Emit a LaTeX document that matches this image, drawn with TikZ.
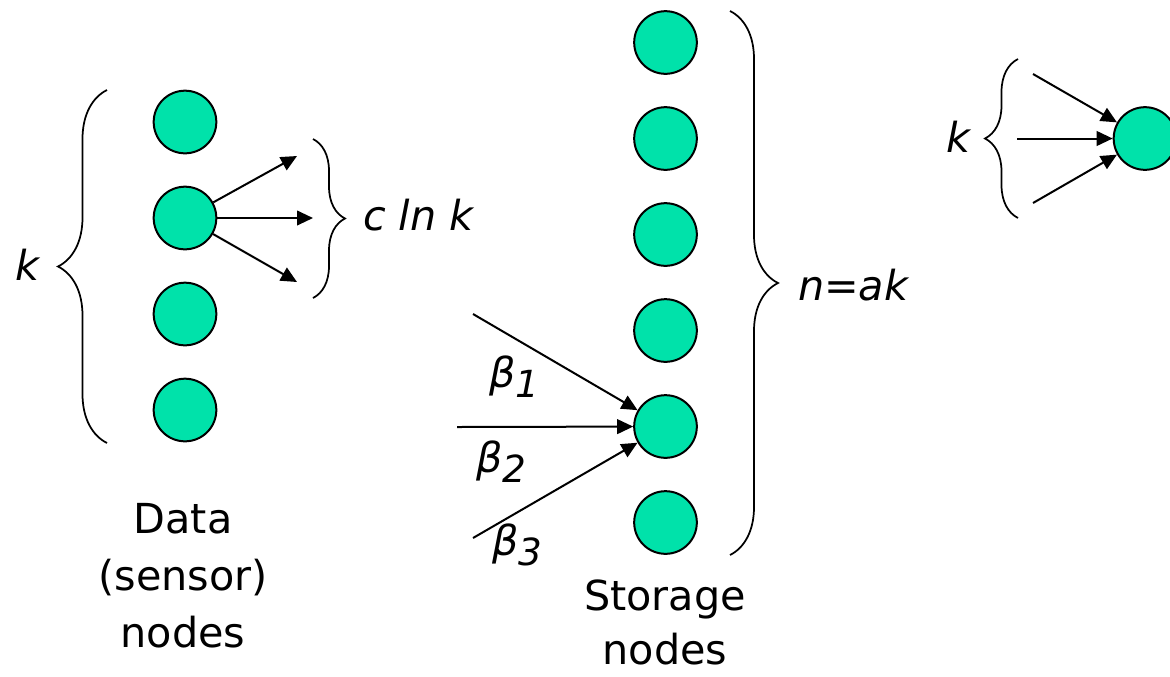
\documentclass[tikz,border=0pt]{standalone}
\usepackage{fontspec}
\setmainfont{DejaVu Sans}
\usepackage{tikz}
\usetikzlibrary{arrows.meta,decorations.pathreplacing}
\definecolor{nodegreen}{RGB}{0,226,170}
\newcommand{\betasub}[1]{β\raisebox{-7.5pt}{\fontsize{28pt}{28pt}\selectfont #1}}

\begin{document}
\begin{tikzpicture}[x=0.75pt,y=-0.75pt,>={Triangle[length=12pt,width=11pt]},line width=1.5pt,
    every node/.style={font=\fontsize{31pt}{43pt}\selectfont},
    dot/.style={circle,draw=black,fill=nodegreen,minimum size=47pt,inner sep=0pt,line width=1.5pt},
    lbl/.style={font=\fontsize{31pt}{43pt}\selectfont\itshape,inner sep=0pt,anchor=base west},
    cbrace/.style={decorate,decoration={brace,amplitude=#1},line width=1.3pt}]
  \useasboundingbox (0,0) rectangle (1170,676);
  % data (sensor) nodes, with the k brace
  \foreach \i/\y in {1/122,2/218,3/314,4/410} \node[dot] (d\i) at (185,\y) {};
  \draw[cbrace=36.75pt] (107,443) -- (107,90);
  \node[lbl] (kleft) at (14,280) {k};
  % c ln k outgoing edges of one data node
  \coordinate (c1) at (297,156);
  \coordinate (c2) at (313,218);
  \coordinate (c3) at (297,282);
  \foreach \i in {1,2,3} \draw[->] (d2) -- (c\i);
  \draw[cbrace=24pt] (313,139) -- (313,298);
  \node[lbl] (clnk) at (362,230) {c ln k};
  \node[align=center,anchor=north,inner sep=0pt] (datalbl) at (183,502) {Data\\(sensor)\\nodes};
  % storage nodes, n = ak of them
  \foreach \i in {1,...,6} \node[dot] (s\i) at (665.5,{42.5+96*(\i-1)}) {};
  \draw[cbrace=36pt] (730,11) -- (730,555);
  \node[lbl] (nak) at (797,300) {n=ak};
  \node[align=center,anchor=north,inner sep=0pt,font=\fontsize{31pt}{40pt}\selectfont] (storelbl) at (665,579) {Storage\\nodes};
  % weighted incoming edges
  \coordinate (b1) at (473,314);
  \coordinate (b2) at (457,427);
  \coordinate (b3) at (473,538);
  \foreach \i in {1,2,3} \draw[->] (b\i) -- (s5);
  \node[lbl] (beta1) at (488,387) {\betasub{1}};
  \node[lbl] (beta2) at (475,472) {\betasub{2}};
  \node[lbl] (beta3) at (491,555) {\betasub{3}};
  % one node fed by k others
  \node[dot] (r) at (1145,138.5) {};
  \coordinate (k1) at (1033,74);
  \coordinate (k2) at (1017,138.5);
  \coordinate (k3) at (1033,203);
  \foreach \i in {1,2,3} \draw[->] (k\i) -- (r);
  \draw[cbrace=24.75pt] (1018,218) -- (1018,59);
  \node[lbl] (kright) at (945,152) {k};
\end{tikzpicture}
\end{document}
